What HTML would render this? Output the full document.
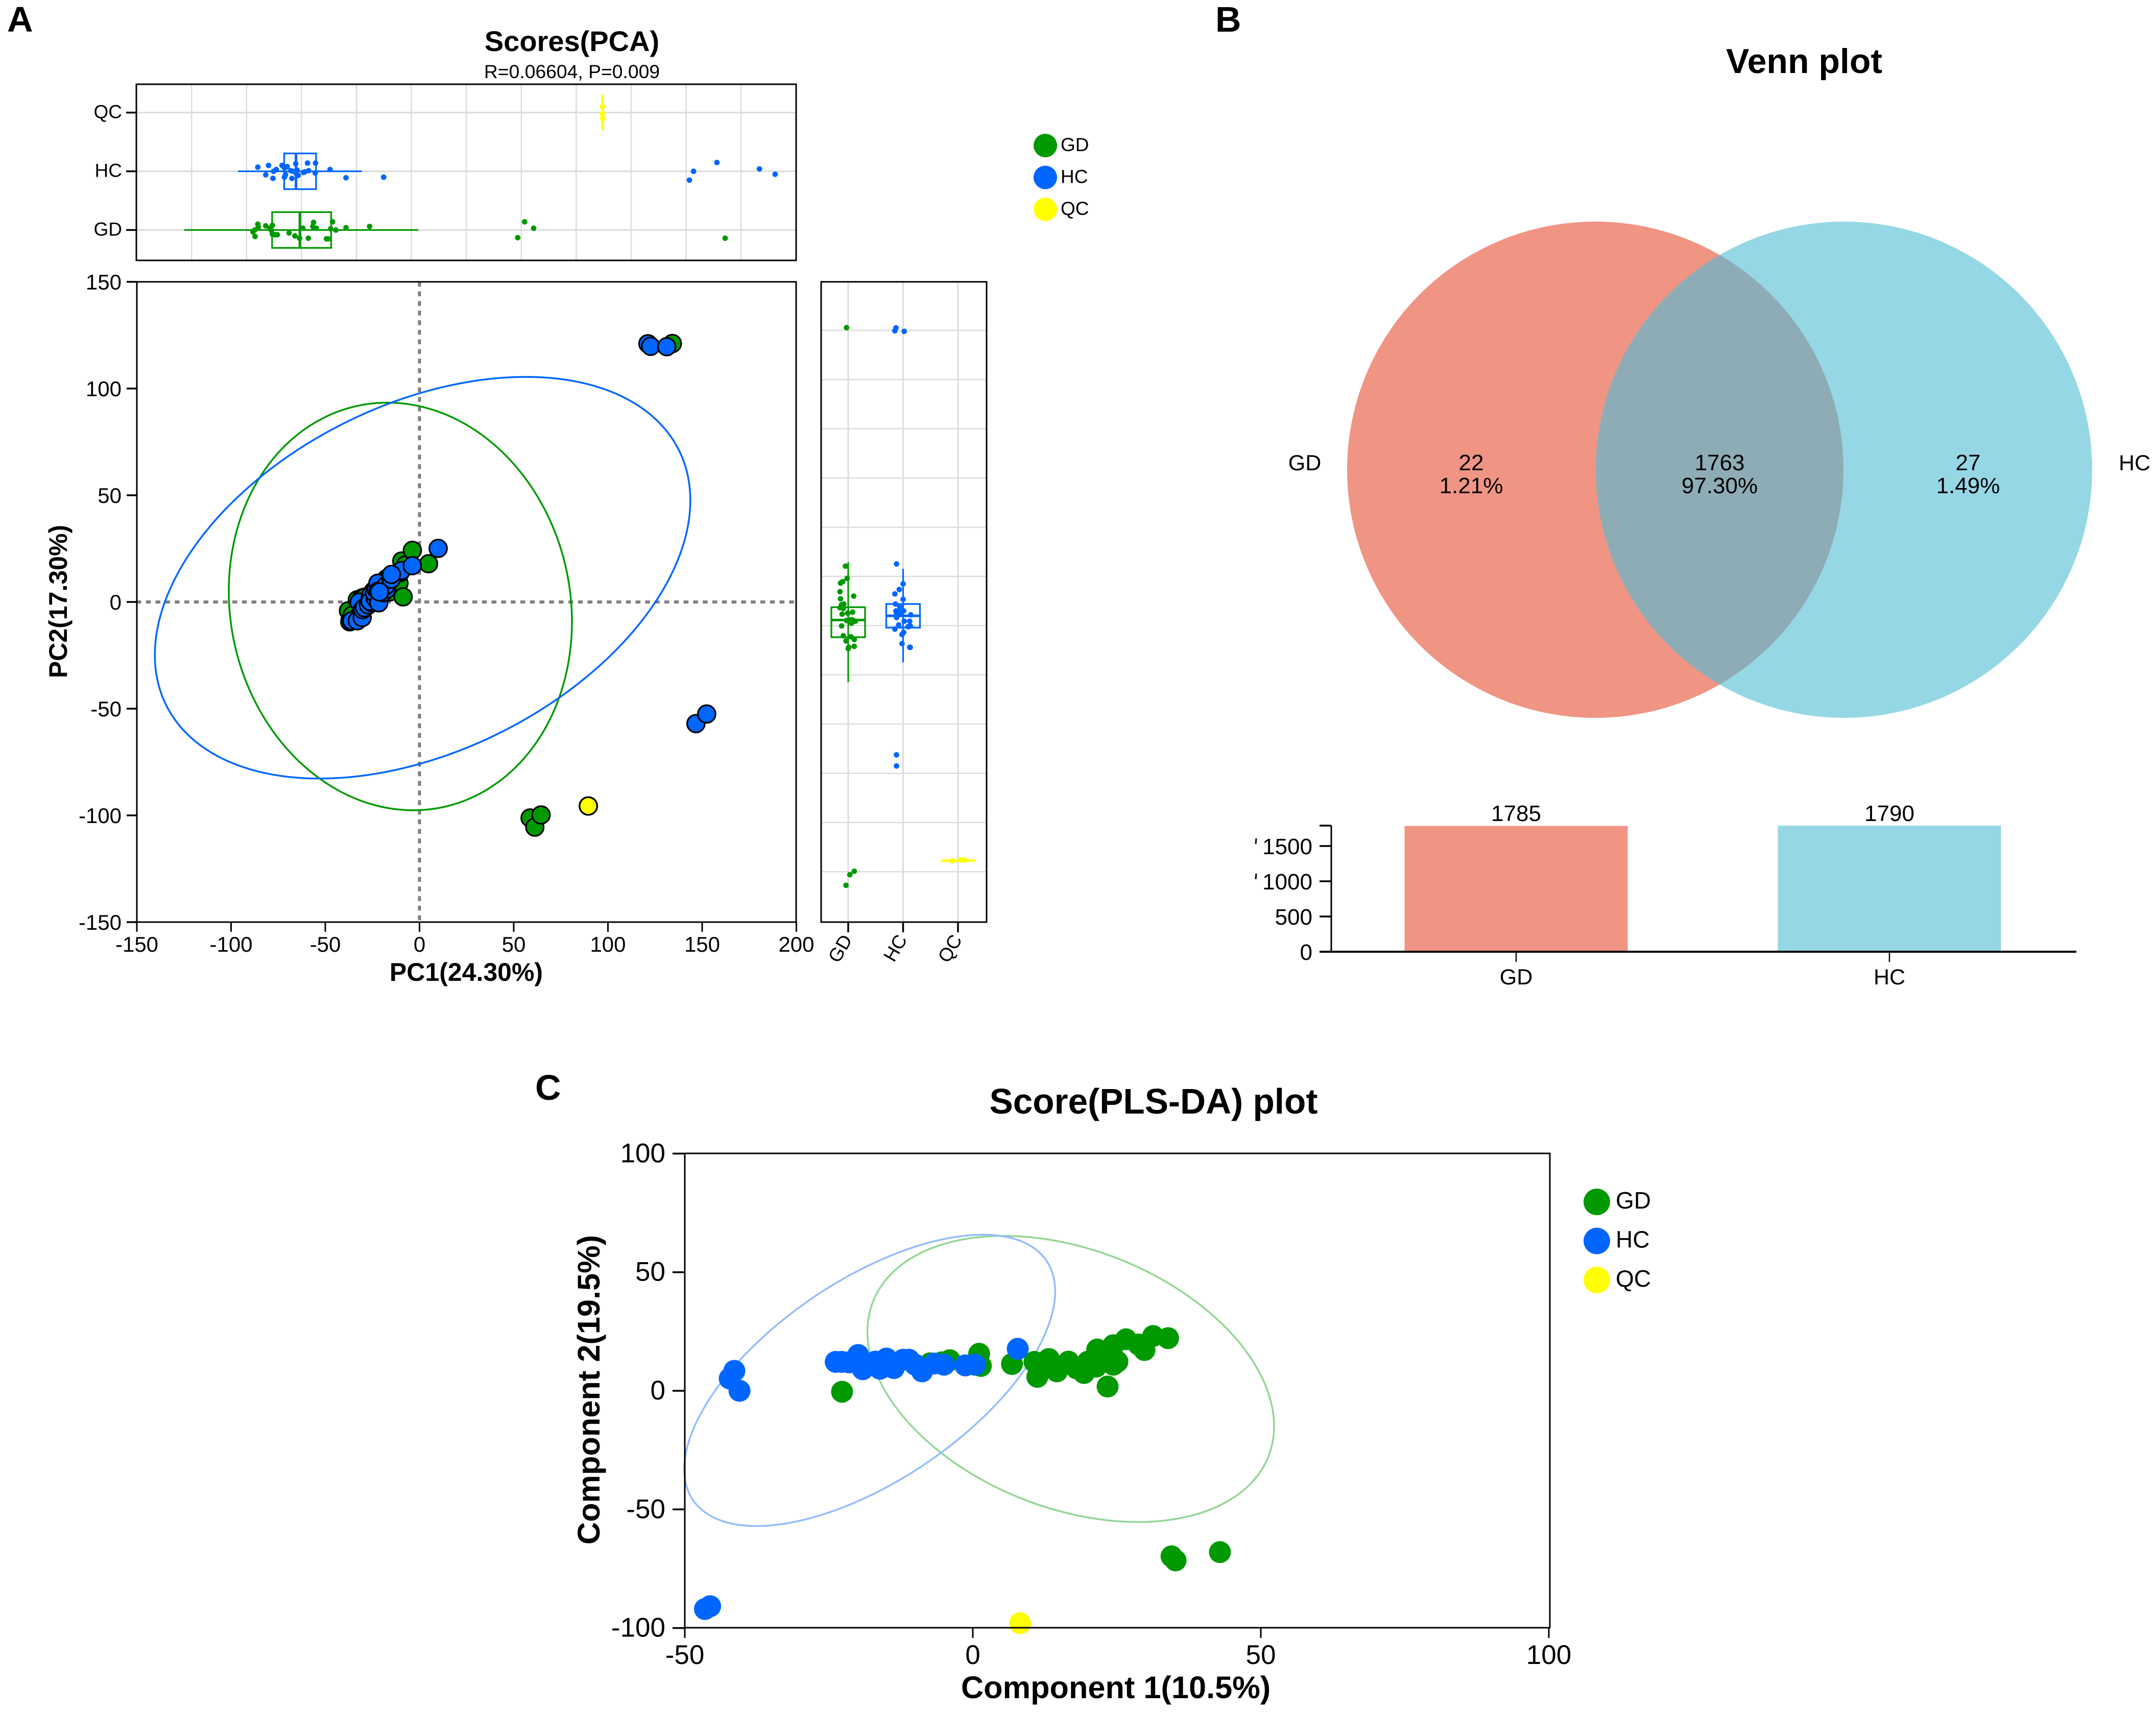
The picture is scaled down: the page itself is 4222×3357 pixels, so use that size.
<!DOCTYPE html>
<html>
<head>
<meta charset="utf-8">
<title>PCA, Venn and PLS-DA figure</title>
<style>
html,body{margin:0;padding:0;background:#fff;}
svg{display:block;font-family:"Liberation Sans",sans-serif;}
</style>
</head>
<body>
<svg id="figure" xmlns="http://www.w3.org/2000/svg" width="4222" height="3357" viewBox="0 0 4222 3357">
  <rect width="4222" height="3357" fill="#fff"/>
  <text x="14" y="62" font-size="70" font-weight="bold">A</text>
  <text x="2380" y="62" font-size="70" font-weight="bold">B</text>
  <text x="1048" y="2154" font-size="70" font-weight="bold">C</text>
  <text x="1120" y="100" font-size="56" font-weight="bold" text-anchor="middle">Scores(PCA)</text>
  <text x="1120" y="153" font-size="37.3" text-anchor="middle">R=0.06604, P=0.009</text>
  <text x="913" y="1921" font-size="50" font-weight="bold" text-anchor="middle">PC1(24.30%)</text>
  <text transform="translate(131,1178) rotate(-90)" font-size="50" font-weight="bold" text-anchor="middle">PC2(17.30%)</text>
  <text x="3533" y="143" font-size="68" font-weight="bold" text-anchor="middle">Venn plot</text>
  <text x="2259" y="2181" font-size="69.3" font-weight="bold" text-anchor="middle">Score(PLS-DA) plot</text>
  <text x="2185" y="3326" font-size="61.3" font-weight="bold" text-anchor="middle">Component 1(10.5%)</text>
  <text transform="translate(1174,2722) rotate(-90)" font-size="61.3" font-weight="bold" text-anchor="middle">Component 2(19.5%)</text>
</svg>
<script>
// ---- PCA data (panel A) ----
const groupNames = ['GD', 'HC', 'QC'];
const gdPC1 = [-37.7,-37,-36.9,-35.9,-35.7,-33,-31.5,-30.9,-30.6,-30.6,-29.7,-28.8,-24.5,-22.4,-20.7,-19.5,-17.5,-15.9,-15.6,-14.6,-10.9,-10.3,-9.4,-8.7,-7.5,-3.8,4.8,58.7,61.2,64.5,134.2];
const gdPC2 = [-4.1,-9.3,-8.8,-8.4,-6.2,1,-5.6,-4.5,-0.1,1.8,2.1,2.3,5.1,7,7.3,5.5,10.9,4.7,12,8.5,8.8,13.8,19.2,2.4,17.3,24.2,17.9,-101.2,-105.5,-99.8,121.1];
const gdTopJitter = [-.03,0,-.11,.10,.05,.07,.03,-.01,.08,-.07,-.08,-.08,-.05,-.10,-.14,.03,-.14,.06,.13,.03,-.15,-.15,.02,.14,0,.04,.06,-.13,.14,.03,-.14];
const gdSideJitter = [-.09,0,.01,.11,-.04,.06,.11,.05,-.12,.13,-.03,.08,-.01,-.09,-.15,.08,-.14,-.11,.10,-.12,-.08,-.15,-.02,.05,-.14,-.05,-.10,.03,-.04,.11,-.03];
const hcPC1 = [-35.9,-33,-32,-30.4,-30.2,-29.2,-27.1,-26.2,-25.8,-25.2,-26.2,-23.5,-23.9,-23,-22.1,-21.6,-21.9,-19.3,-18.8,-17.4,-17.8,-15,-9.6,-14.9,-3.8,9.9,-21.2,121.2,122.7,131.2,146.7,152.4];
const hcPC2 = [-8.8,-8.8,-.1,-7.3,-3.6,-2.7,-1.4,1.8,3.3,-.4,.3,1.8,4.2,6,8.8,-.4,5.1,4.4,6,6,7.7,10.7,14.7,12.9,17,25.1,4.7,121,119.8,119.6,-57,-52.5];
const hcTopJitter = [.07,-.06,.10,-.12,0,.03,.10,.06,-.06,.08,-.10,-.12,.01,0,.13,.02,-.04,-.02,-.01,.01,.14,-.03,.03,.14,-.11,-.10,-.07,-.15,0,.15,.04,-.05];
const hcSideJitter = [.12,.13,.13,-.02,-.02,.01,-.15,.02,-.12,.09,-.08,.12,-.10,-.13,-.14,.10,-.12,.14,.01,-.08,-.06,0,-.07,-.15,0,-.12,-.05,-.13,-.15,.02,-.12,-.12];
const qcPC1 = [89.6,89.5,89.7];
const qcPC2 = [-95.6,-95.2,-95.2];
const qcTopJitter = [.10,-.02,-.10];
const qcSideJitter = [-.10,.05,.12];
// box stats: lower whisker, q1, median, q3, upper whisker
const gdPC1Box = [-62.7,-30.7,-20.6,-9.2,22.5];
const hcPC1Box = [-43.1,-26.3,-22,-14.7,2];
const qcPC1Box = [89.6,89.6,89.6,89.6,89.6];
const gdPC2Box = [-23,-4.7,2.3,7.5,25.8];
const hcPC2Box = [-14.9,-0.8,4,8.8,23.1];
const qcPC2Box = [-95.5,-95.5,-95.5,-95.5,-95.5];
const pcaXTicks = [-150,-100,-50,0,50,100,150,200];
const pcaYTicks = [-150,-100,-50,0,50,100,150];
const topGridValues = [-60,-40,-20,0,20,40,60,80,100,120,140];
const sideGridValues = [-100,-80,-60,-40,-20,0,20,40,60,80,100,120];
// ellipse: centre x, centre y, half extent x, half extent y, correlation
const gdPCAEllipse = [-10.16,-2.1,91.06,95.5,-0.075];
const hcPCAEllipse = [1.63,11.36,142.1,94.1,0.385];

// ---- Venn / bar data (panel B) ----
const vennLabels = ['22','1763','27'];
const vennPercents = ['1.21%','97.30%','1.49%'];
const vennSetNames = ['GD','HC'];
const barCategories = ['GD','HC'];
const barValues = [1785,1790];
const barTicks = [0,500,1000,1500];

// ---- PLS-DA data (panel C) ----
const plsGdX = [-22.7,-7.4,-5.4,-4,1.1,1.4,6.8,10.7,13.2,11.2,14.6,16.6,20,19.3,21.6,21.4,24.4,25.1,23.4,24.4,26.6,28.8,29.8,31.3,33.9,22.9,18,34.5,35.2,42.9];
const plsGdY = [-0.4,11.6,12,12.9,15.6,10.5,11.3,12.2,13.4,5.9,8.2,12.3,12.3,7.5,17.4,10.2,11,12.3,1.8,19.2,21.7,19.5,17.2,23.1,22.2,13,9.5,-69.8,-71.5,-68];
const plsHcX = [-41.4,-42.2,-40.5,-23.8,-22.8,-19.9,-19.1,-16.9,-16.1,-15,-13.7,-12.1,-11.1,-8.8,-6.7,-1.3,0.4,7.8,-21.5,-18,-14,-10,-5,-46.5,-45.6];
const plsHcY = [8.4,5.2,0,12.2,12.2,15.1,9.1,12.3,9.3,13.6,9.6,13.1,13.1,8.2,11.5,10.7,11,17.7,12,11,11,11,11,-92,-90.8];
const plsQcX = [8.2];
const plsQcY = [-98];
const plsXTicks = [-50,0,50,100];
const plsYTicks = [-100,-50,0,50,100];
const gdPlsEllipse = [17,5,35.3,60.3,-0.33];
const hcPlsEllipse = [-17.9,4.4,32.2,61.4,0.61];

const COLORS = {GD:'#009900', HC:'#0066FF', QC:'#FFFF00'};
const GRID = '#dcdcdc';
const NS = 'http://www.w3.org/2000/svg';
const svg = document.getElementById('figure');

function group(name){
  const el = document.createElementNS(NS,'g');
  
  
  svg.appendChild(el);
  return el;
}
function line(p,name,x1,y1,x2,y2,stroke,w,dash){
  const el = document.createElementNS(NS,'line');
  
  
  el.setAttribute('x1',x1); el.setAttribute('y1',y1); el.setAttribute('x2',x2); el.setAttribute('y2',y2);
  el.setAttribute('stroke',stroke); el.setAttribute('stroke-width',w);
  if(dash) el.setAttribute('stroke-dasharray',dash);
  p.appendChild(el);
  return el;
}
function rect(p,name,x,y,w,h,fill,stroke,sw){
  const el = document.createElementNS(NS,'rect');
  
  
  el.setAttribute('x',x); el.setAttribute('y',y); el.setAttribute('width',w); el.setAttribute('height',h);
  el.setAttribute('fill',fill);
  if(stroke){ el.setAttribute('stroke',stroke); el.setAttribute('stroke-width',sw); }
  p.appendChild(el);
  return el;
}
function dot(p,name,cx,cy,r,fill,stroke,sw){
  const el = document.createElementNS(NS,'circle');
  
  
  el.setAttribute('cx',cx); el.setAttribute('cy',cy); el.setAttribute('r',r); el.setAttribute('fill',fill);
  if(stroke){ el.setAttribute('stroke',stroke); el.setAttribute('stroke-width',sw); }
  p.appendChild(el);
  return el;
}
function label(p,name,x,y,str,size,anchor,transform){
  const el = document.createElementNS(NS,'text');
  
  
  el.setAttribute('x',x); el.setAttribute('y',y);
  el.setAttribute('font-size',size);
  el.setAttribute('text-anchor',anchor||'middle');
  if(transform) el.setAttribute('transform',transform);
  el.textContent = str;
  p.appendChild(el);
  return el;
}
function ellipse(p,name,e,xf,yf,stroke,w){
  const phase = Math.acos(e[4]);
  let d = '';
  for(let i=0;i<=180;i++){
    const t = i/180*2*Math.PI;
    d += (i?'L':'M') + xf(e[0]+e[2]*Math.cos(t)).toFixed(1) + ' ' + yf(e[1]+e[3]*Math.cos(t+phase)).toFixed(1);
  }
  const el = document.createElementNS(NS,'path');
  
  
  el.setAttribute('d',d+'Z');
  el.setAttribute('fill','none');
  el.setAttribute('stroke',stroke);
  el.setAttribute('stroke-width',w);
  p.appendChild(el);
  return el;
}

// ---- Axis functions ----
const mainX = v => 821.5 + 3.69*v;
const mainY = v => 1179 - 4.18*v;
const topX = v => 698 + 5.38*v;
const topCat = i => 450.5 - 115*i;
const sideY = v => 1225.4 - 4.82*v;
const sideCat = i => 1661 + 107.5*i;
const barY = v => 1864 - 0.138*v;
const barX = i => 2969 + 731*i;
const plsX = v => 1905 + 11.28*v;
const plsY = v => 2724 - 4.646*v;

// ---- Top strip (PC1 by group) ----
const topG = group('pc1-strip-panel');
rect(topG,'pc1-strip-background',267,165,1292,345,'#fff');
topGridValues.forEach(v => line(topG,'pc1-strip-grid-vertical',topX(v),165,topX(v),510,GRID,2.5));
groupNames.forEach((g,i) => line(topG,'pc1-strip-grid-horizontal',267,topCat(i),1559,topCat(i),GRID,3));
function topBox(stats,i,color,name){
  const y = topCat(i), h = 35;
  line(topG,name+'-whisker',topX(stats[0]),y,topX(stats[4]),y,color,3.2);
  rect(topG,name+'-box',topX(stats[1]),y-h,topX(stats[3])-topX(stats[1]),2*h,'none',color,3.3);
  line(topG,name+'-median',topX(stats[2]),y-h,topX(stats[2]),y+h,color,5);
}
topBox(gdPC1Box,0,COLORS.GD,'pc1-box-gd');
topBox(hcPC1Box,1,COLORS.HC,'pc1-box-hc');
topBox(qcPC1Box,2,COLORS.QC,'pc1-box-qc');
gdPC1.forEach((v,k) => dot(topG,'pc1-point-gd',topX(v),topCat(0)-gdTopJitter[k]*115,5.4,COLORS.GD));
hcPC1.forEach((v,k) => dot(topG,'pc1-point-hc',topX(v),topCat(1)-hcTopJitter[k]*115,5.4,COLORS.HC));
qcPC1.forEach((v,k) => dot(topG,'pc1-point-qc',topX(v),topCat(2)-qcTopJitter[k]*115,5.4,COLORS.QC));
rect(topG,'pc1-strip-frame',267,165,1292,345,'none','#000',3);
groupNames.forEach((g,i) => {
  line(topG,'pc1-strip-tick',247,topCat(i),267,topCat(i),'#000',3.5);
  label(topG,'pc1-strip-label-'+g.toLowerCase(),239,topCat(i)+11,g,37,'end');
});

// ---- Side strip (PC2 by group) ----
const sideG = group('pc2-strip-panel');
sideGridValues.forEach(v => line(sideG,'pc2-strip-grid-horizontal',1608,sideY(v),1932,sideY(v),GRID,2.5));
groupNames.forEach((g,i) => line(sideG,'pc2-strip-grid-vertical',sideCat(i),552,sideCat(i),1806,GRID,3));
function sideBox(stats,i,color,name){
  const x = sideCat(i), w = 33;
  line(sideG,name+'-whisker',x,sideY(stats[0]),x,sideY(stats[4]),color,3.2);
  rect(sideG,name+'-box',x-w,sideY(stats[3]),2*w,sideY(stats[1])-sideY(stats[3]),'none',color,3.3);
  line(sideG,name+'-median',x-w,sideY(stats[2]),x+w,sideY(stats[2]),color,5);
}
sideBox(gdPC2Box,0,COLORS.GD,'pc2-box-gd');
sideBox(hcPC2Box,1,COLORS.HC,'pc2-box-hc');
sideBox(qcPC2Box,2,COLORS.QC,'pc2-box-qc');
gdPC2.forEach((v,k) => dot(sideG,'pc2-point-gd',sideCat(0)+gdSideJitter[k]*107.5,sideY(v),5.4,COLORS.GD));
hcPC2.forEach((v,k) => dot(sideG,'pc2-point-hc',sideCat(1)+hcSideJitter[k]*107.5,sideY(v),5.4,COLORS.HC));
qcPC2.forEach((v,k) => dot(sideG,'pc2-point-qc',sideCat(2)+qcSideJitter[k]*107.5,sideY(v),5.4,COLORS.QC));
rect(sideG,'pc2-strip-frame',1608,552,324,1254,'none','#000',3);
groupNames.forEach((g,i) => {
  const x = sideCat(i);
  line(sideG,'pc2-strip-tick',x,1806,x,1826,'#000',3.5);
  label(sideG,'pc2-strip-label-'+g.toLowerCase(),x+9,1840,g,37,'end','rotate(-60 '+(x+9)+' 1840)');
});

// ---- Main PCA score plot ----
const mainG = group('pca-score-plot');
line(mainG,'pca-zero-line-horizontal',267,mainY(0),1559,mainY(0),'#808080',6,'9.5 9.3');
line(mainG,'pca-zero-line-vertical',mainX(0),552,mainX(0),1806,'#808080',6,'9.5 9.3');
ellipse(mainG,'pca-ellipse-gd',gdPCAEllipse,mainX,mainY,COLORS.GD,3.5);
ellipse(mainG,'pca-ellipse-hc',hcPCAEllipse,mainX,mainY,COLORS.HC,3.5);
gdPC1.forEach((v,k) => dot(mainG,'pca-point-gd',mainX(v),mainY(gdPC2[k]),17.3,COLORS.GD,'#000',3.2));
hcPC1.forEach((v,k) => dot(mainG,'pca-point-hc',mainX(v),mainY(hcPC2[k]),17.3,COLORS.HC,'#000',3.2));
dot(mainG,'pca-point-qc',mainX(qcPC1[0]),mainY(qcPC2[0]),17.3,COLORS.QC,'#000',3.4);
rect(mainG,'pca-plot-frame',268,552,1291,1254,'none','#000',3);
pcaXTicks.forEach(v => {
  line(mainG,'pca-x-tick',mainX(v),1806,mainX(v),1825,'#000',3);
  label(mainG,'pca-x-tick-label',mainX(v),1864,String(v),42);
});
pcaYTicks.forEach(v => {
  line(mainG,'pca-y-tick',248,mainY(v),268,mainY(v),'#000',3.5);
  label(mainG,'pca-y-tick-label',238,mainY(v)+15,String(v),42,'end');
});

// ---- Panel A legend ----
const legA = group('pca-legend');
groupNames.forEach((g,i) => {
  dot(legA,'pca-legend-marker-'+g.toLowerCase(),2047,285+62.5*i,23,COLORS[g]);
  label(legA,'pca-legend-label-'+g.toLowerCase(),2077,285+62.5*i+11,g,37,'start');
});

// ---- Venn diagram ----
const vennG = group('venn-diagram');
const defs = document.createElementNS(NS,'defs');
const clip = document.createElementNS(NS,'clipPath');
clip.setAttribute('id','left-set-clip');
const clipC = document.createElementNS(NS,'circle');
clipC.setAttribute('cx',3124); clipC.setAttribute('cy',920); clipC.setAttribute('r',486);
clip.appendChild(clipC); defs.appendChild(clip); svg.appendChild(defs);
dot(vennG,'venn-set-gd',3124,920,486,'#F09484');
dot(vennG,'venn-set-hc',3611,920,486,'#96D7E5');
const lens = dot(vennG,'venn-overlap',3611,920,486,'#8EACB5');
lens.setAttribute('clip-path','url(#left-set-clip)');
[2881,3367.5,3854].forEach((x,i) => {
  label(vennG,'venn-count',x,921,vennLabels[i],44);
  label(vennG,'venn-percent',x,966,vennPercents[i],44);
});
label(vennG,'venn-set-label-gd',2555,921,vennSetNames[0],43);
label(vennG,'venn-set-label-hc',4180,921,vennSetNames[1],43);

// ---- Set size bars ----
const barG = group('set-size-bars');
const barFill = ['#F09484','#96D7E5'];
barCategories.forEach((c,i) => {
  rect(barG,'bar-'+c.toLowerCase(),barX(i)-218.5,barY(barValues[i]),437,barY(0)-barY(barValues[i]),barFill[i]);
  label(barG,'bar-value-'+c.toLowerCase(),barX(i),1608,String(barValues[i]),44);
  line(barG,'bar-x-tick',barX(i),1864,barX(i),1884,'#000',2.5);
  label(barG,'bar-x-label-'+c.toLowerCase(),barX(i),1928,c,43);
});
line(barG,'bar-y-axis',2607,barY(1790),2607,1864,'#000',3);
line(barG,'bar-x-axis',2584,1864,4066,1864,'#000',4);
line(barG,'bar-y-tick-top',2584,barY(1790),2607,barY(1790),'#000',3.5);
barTicks.forEach(v => {
  if(v>0) line(barG,'bar-y-tick',2584,barY(v),2607,barY(v),'#000',3.5);
  label(barG,'bar-y-tick-label',2570,barY(v)+16,String(v),44,'end');
  if(v>=1000) line(barG,'bar-label-clip-artifact',2460,barY(v)-15,2459,barY(v)-4,'#000',3);
});

// ---- PLS-DA score plot ----
const plsG = group('plsda-score-plot');
ellipse(plsG,'plsda-ellipse-gd',gdPlsEllipse,plsX,plsY,'#93D693',3.5);
ellipse(plsG,'plsda-ellipse-hc',hcPlsEllipse,plsX,plsY,'#93BCFF',3.5);
plsGdX.forEach((v,k) => dot(plsG,'plsda-point-gd',plsX(v),plsY(plsGdY[k]),21.5,COLORS.GD));
plsHcX.forEach((v,k) => dot(plsG,'plsda-point-hc',plsX(v),plsY(plsHcY[k]),21.5,COLORS.HC));
plsQcX.forEach((v,k) => dot(plsG,'plsda-point-qc',plsX(v),plsY(plsQcY[k]),21.5,COLORS.QC));
rect(plsG,'plsda-plot-frame',1341,2259,1694,929,'none','#000',3);
plsXTicks.forEach(v => {
  line(plsG,'plsda-x-tick',plsX(v),3188,plsX(v),3208,'#000',3);
  label(plsG,'plsda-x-tick-label',plsX(v),3259,String(v),53);
});
plsYTicks.forEach(v => {
  line(plsG,'plsda-y-tick',1317,plsY(v),1341,plsY(v),'#000',3.5);
  label(plsG,'plsda-y-tick-label',1303,plsY(v)+17,String(v),53,'end');
});
const legC = group('plsda-legend');
groupNames.forEach((g,i) => {
  dot(legC,'plsda-legend-marker-'+g.toLowerCase(),3127,2354+76.5*i,26,COLORS[g]);
  label(legC,'plsda-legend-label-'+g.toLowerCase(),3164,2354+76.5*i+13,g,46,'start');
});
</script>
</body>
</html>
